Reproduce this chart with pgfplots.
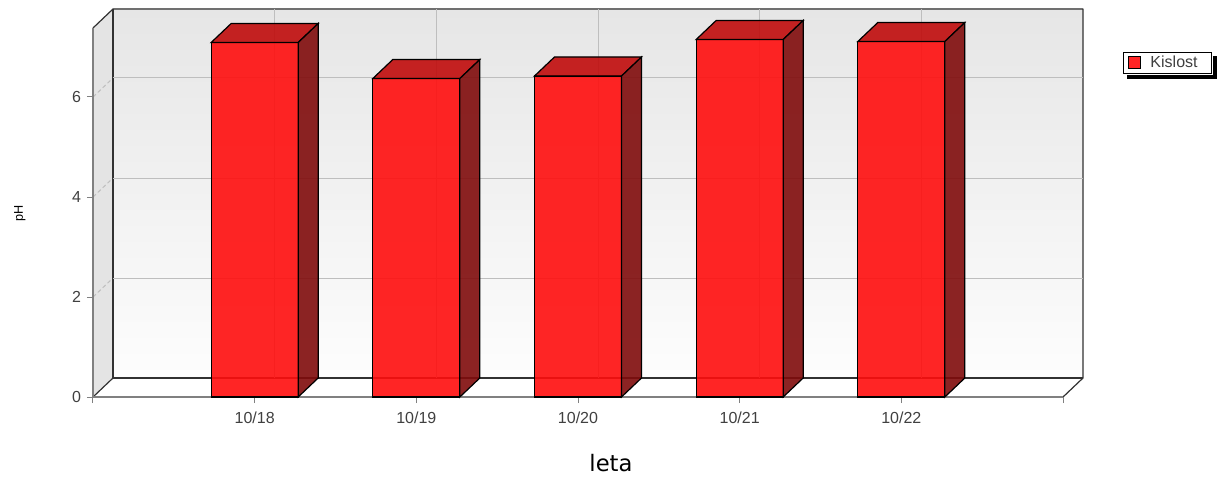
\documentclass[border=0pt]{standalone}
\usepackage{pgfplots}
\pgfplotsset{compat=1.18}
\usepackage{pgfplotstable}
\usepackage{fontspec}
\setmainfont{Liberation Sans}
\newfontfamily\labfont{DejaVu Sans}

\definecolor{barfront}{RGB}{255,14,14}
\definecolor{bartop}{RGB}{192,12,12}
\definecolor{barside}{RGB}{128,12,12}
\definecolor{walltop}{RGB}{230,230,230}
\definecolor{wallbot}{RGB}{253,253,253}
\definecolor{wallside}{RGB}{228,228,228}
\definecolor{gridc}{RGB}{190,190,190}
\definecolor{edgec}{RGB}{50,50,50}
\definecolor{axisc}{RGB}{128,128,128}
\definecolor{ticklab}{RGB}{64,64,64}

\pgfplotstableread{
x v
0 7.09
1 6.37
2 6.42
3 7.15
4 7.11
}\phdata

% 3D top and side faces of a bar; origin = top centre of the front face
\pgfdeclareplotmark{bar3d}{%
  \pgfmathsetmacro\barh{\barval*37.5}%
  \pgfsetlinewidth{0.9pt}%
  \pgfsetstrokecolor{black}%
  \pgfsetfillopacity{0.9}%
  \pgfsetfillcolor{bartop}%
  \pgfpathmoveto{\pgfpoint{-32.625pt}{0pt}}%
  \pgfpathlineto{\pgfpoint{-17.625pt}{14.25pt}}%
  \pgfpathlineto{\pgfpoint{47.625pt}{14.25pt}}%
  \pgfpathlineto{\pgfpoint{32.625pt}{0pt}}%
  \pgfpathclose
  \pgfusepath{fill,stroke}%
  \pgfsetfillcolor{barside}%
  \pgfpathmoveto{\pgfpoint{32.625pt}{0pt}}%
  \pgfpathlineto{\pgfpoint{47.625pt}{14.25pt}}%
  \pgfpathlineto{\pgfpoint{47.625pt}{14.25pt-\barh*1pt}}%
  \pgfpathlineto{\pgfpoint{32.625pt}{-\barh*1pt}}%
  \pgfpathclose
  \pgfusepath{fill,stroke}%
}

\begin{document}
\begin{tikzpicture}
\begin{scope}[x=0.75pt,y=0.75pt]
\shade[top color=walltop, bottom color=wallbot] (20,19) rectangle (990,388);
\fill[wallside] (0,0) -- (20,19) -- (20,388) -- (0,369) -- cycle;
\fill[white] (0,0) -- (20,19) -- (990,19) -- (970,0) -- cycle;
\foreach \v in {2,4,6} \draw[gridc, densely dashed, line width=0.75pt] (0,\v*50) -- (20,\v*50+19);
\draw[edgec, line width=0.9pt, line join=round] (0,369) -- (20,388) -- (990,388) -- (990,19) -- (970,0);
\draw[edgec, line width=0.9pt] (20,388) -- (20,19) -- (990,19);
\draw[edgec, line width=0.9pt] (0,0) -- (20,19);
\draw[axisc, line width=1.5pt] (0,369) -- (0,0) -- (970,0);
\end{scope}
\begin{axis}[
  at={(0pt,0pt)}, anchor=south west,
  x=121.25pt, y=37.5pt,
  xmin=-1, xmax=5, ymin=0, ymax=7.38,
  clip=false,
  axis line style={draw=none},
  xtick={0,1,2,3,4},
  xticklabels={10/18,10/19,10/20,10/21,10/22},
  ytick={2,4,6},
  extra y ticks={0},
  extra y tick style={grid=none},
  extra x ticks={-1,5},
  extra x tick labels={{},{}},
  extra x tick style={grid=none},
  xtick pos=bottom, ytick pos=left,
  tick align=outside,
  major tick length=4.5pt,
  tick style={axisc, line width=0.75pt},
  xmajorgrids, ymajorgrids,
  grid style={gridc, line width=0.75pt, xshift=15pt, yshift=14.25pt},
  ticklabel style={font=\fontsize{12}{14}\selectfont, text=ticklab},
  yticklabel style={xshift=-1pt},
  xticklabel style={yshift=-3.5pt},
  /pgf/number format/assume math mode=true,
  xlabel={\labfont leta},
  xlabel style={at={(axis description cs:0.534,-0.179)}, anchor=center, font=\fontsize{17}{20}\selectfont},
  ylabel={pH},
  ylabel style={at={(axis description cs:-0.0753,0.4986)}, anchor=center, font=\fontsize{9.5}{11}\selectfont},
  legend style={name=leg, at={(1.0619,0.935)}, anchor=north west, draw=black, line width=0.75pt, fill=white,
    inner xsep=3.6pt, inner ysep=1.5pt, font=\fontsize{12}{14}\selectfont, text=ticklab,
    nodes={inner xsep=7pt, inner ysep=1.4pt}},
  legend image code/.code={%
    \draw[fill=barfront, draw=black, line width=0.6pt] (0pt,-4.2pt) rectangle (9pt,4.8pt);},
]
\addplot[ybar, bar width=65.25pt, fill=barfront, fill opacity=0.9, draw=black, line width=0.9pt]
  table[x=x, y=v] {\phdata};
\addlegendentry{Kislost}
\addplot[forget plot, only marks, mark=bar3d, visualization depends on={\thisrow{v} \as \barval}]
  table[x=x, y=v] {\phdata};
\end{axis}
% legend drop shadow (right and bottom strips)
\fill[black] ([shift={(0.375pt,-3pt)}]leg.north east) rectangle ([shift={(3.375pt,-3.375pt)}]leg.south east);
\fill[black] ([shift={(3pt,-0.375pt)}]leg.south west) rectangle ([shift={(3.375pt,-3.375pt)}]leg.south east);
\pgfresetboundingbox
\path[use as bounding box] (-69.75pt,-61.5pt) rectangle (843pt,297.75pt);
\end{tikzpicture}
\end{document}
